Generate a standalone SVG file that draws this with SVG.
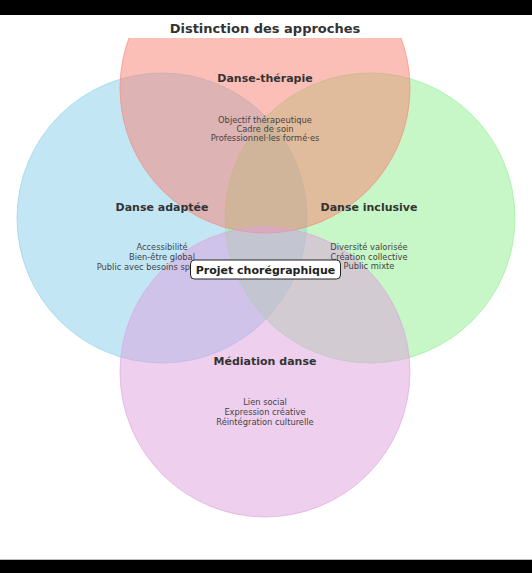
<svg xmlns="http://www.w3.org/2000/svg" width="532" height="573" viewBox="0 0 532 573">
<style>
.title{font-family:"DejaVu Sans",sans-serif;font-weight:bold;font-size:13px;fill:#333;text-anchor:middle}
.head{font-family:"DejaVu Sans",sans-serif;font-weight:bold;font-size:11px;fill:#333;text-anchor:middle}
.body{font-family:"DejaVu Sans",sans-serif;font-size:8.3px;fill:#444;text-anchor:middle}
.center{font-family:"DejaVu Sans",sans-serif;font-weight:bold;font-size:11px;fill:#222;text-anchor:middle}
.c{fill-opacity:0.5;stroke-opacity:0.6;stroke-width:1}
</style>
<defs>
<clipPath id="ax"><rect x="0" y="38" width="532" height="522"/></clipPath>
</defs>
<rect x="0" y="0" width="532" height="573" fill="#ffffff"/>
<rect x="0" y="0" width="532" height="15" fill="#000"/>
<rect x="0" y="559" width="532" height="1" fill="#bbb"/>
<rect x="0" y="560" width="532" height="13" fill="#000"/>
<text class="title" x="265" y="33">Distinction des approches</text>
<g clip-path="url(#ax)">
<g id="adaptee-circle"><circle class="c" cx="162" cy="218" r="145" fill="#87CEEB" stroke="#87CEEB"/></g>
<g id="inclusive-circle"><circle class="c" cx="370" cy="218" r="145" fill="#90EE90" stroke="#90EE90"/></g>
<g id="therapie-circle"><circle class="c" cx="265" cy="88" r="145" fill="#FA8072" stroke="#FA8072"/></g>
<g id="mediation-circle"><circle class="c" cx="265" cy="372" r="145" fill="#DDA0DD" stroke="#DDA0DD"/></g>
</g>
<g id="connectors"></g>
<g id="therapie">
<text class="head" x="265" y="82">Danse-thérapie</text>
<text class="body" x="265" y="123">Objectif thérapeutique</text>
<text class="body" x="265" y="132">Cadre de soin</text>
<text class="body" x="265" y="141">Professionnel·les formé·es</text>
</g>
<g id="adaptee">
<text class="head" x="162" y="211">Danse adaptée</text>
<text class="body" x="162" y="250">Accessibilité</text>
<text class="body" x="162" y="260">Bien-être global</text>
<text class="body" x="162" y="270">Public avec besoins spécifiques</text>
</g>
<g id="inclusive">
<text class="head" x="369" y="211">Danse inclusive</text>
<text class="body" x="369" y="250">Diversité valorisée</text>
<text class="body" x="369" y="260">Création collective</text>
<text class="body" x="369" y="269">Public mixte</text>
</g>
<g id="mediation">
<text class="head" x="265" y="365">Médiation danse</text>
<text class="body" x="265" y="405">Lien social</text>
<text class="body" x="265" y="415">Expression créative</text>
<text class="body" x="265" y="425">Réintégration culturelle</text>
</g>
<g id="projet">
<rect x="190.5" y="260" width="150" height="19" rx="4" fill="#fff" stroke="#222" stroke-width="1"/>
<text class="center" x="265.5" y="273.5">Projet chorégraphique</text>
</g>
</svg>
